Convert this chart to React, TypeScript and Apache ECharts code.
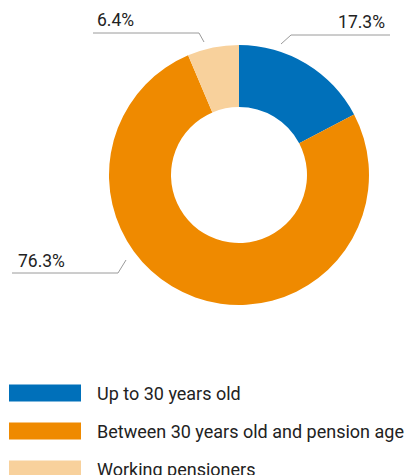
import React, { useEffect, useRef } from "react";
import * as echarts from "echarts";

const categories = ["Up to 30 years old", "Between 30 years old and pension age", "Working pensioners"];
const values = [17.3, 76.3, 6.4];
const colors = ["#0070BA", "#EF8A00", "#F8D19C"];

// label placement (styling only): line points and text anchor per slice
const labelPlacement = [
  { pts: [[281, 44], [291, 35], [390, 35]], x: 385, y: 31, align: "right" },
  { pts: [[126, 260], [118, 273], [12, 273]], x: 18, y: 270, align: "left" },
  { pts: [[204, 42], [199, 33], [93, 33]], x: 97, y: 29, align: "left" },
];

export default function App() {
  const ref = useRef<HTMLDivElement>(null);
  useEffect(() => {
    if (!ref.current) return;
    const chart = echarts.init(ref.current, undefined, { renderer: "svg" });
    chart.setOption({
      animation: false,
      textStyle: { fontFamily: "Roboto" },
      legend: {
        orient: "vertical",
        left: 9,
        top: 384,
        height: 150,
        padding: 0,
        itemWidth: 72,
        itemHeight: 17,
        itemGap: 20,
        icon: "rect",
        selectedMode: false,
        data: categories,
        textStyle: { fontSize: 18, lineHeight: 17, color: "#222", fontFamily: "Roboto", padding: [0, 0, 0, 11] },
      },
      series: [
        {
          type: "pie",
          center: [239, 175],
          radius: [68, 130],
          startAngle: 90,
          clockwise: true,
          data: categories.map((c, i) => ({ name: c, value: values[i], itemStyle: { color: colors[i] } })),
          label: {
            show: true,
            formatter: (p: any) => p.value.toFixed(1) + "%",
            fontSize: 17.5,
            color: "#222",
            fontFamily: "Roboto",
          },
          labelLine: { show: true, lineStyle: { color: "#9a9a9a", width: 1 } },
          labelLayout: (params: any) => {
            const lp = labelPlacement[params.dataIndex];
            return {
              x: lp.x,
              y: lp.y,
              align: lp.align,
              verticalAlign: "bottom",
              labelLinePoints: lp.pts,
            };
          },
          emphasis: { disabled: true },
        },
      ],
    });
    return () => chart.dispose();
  }, []);
  return <div ref={ref} style={{ position: "absolute", left: 0, top: 0, width: 408, height: 475 }} />;
}
